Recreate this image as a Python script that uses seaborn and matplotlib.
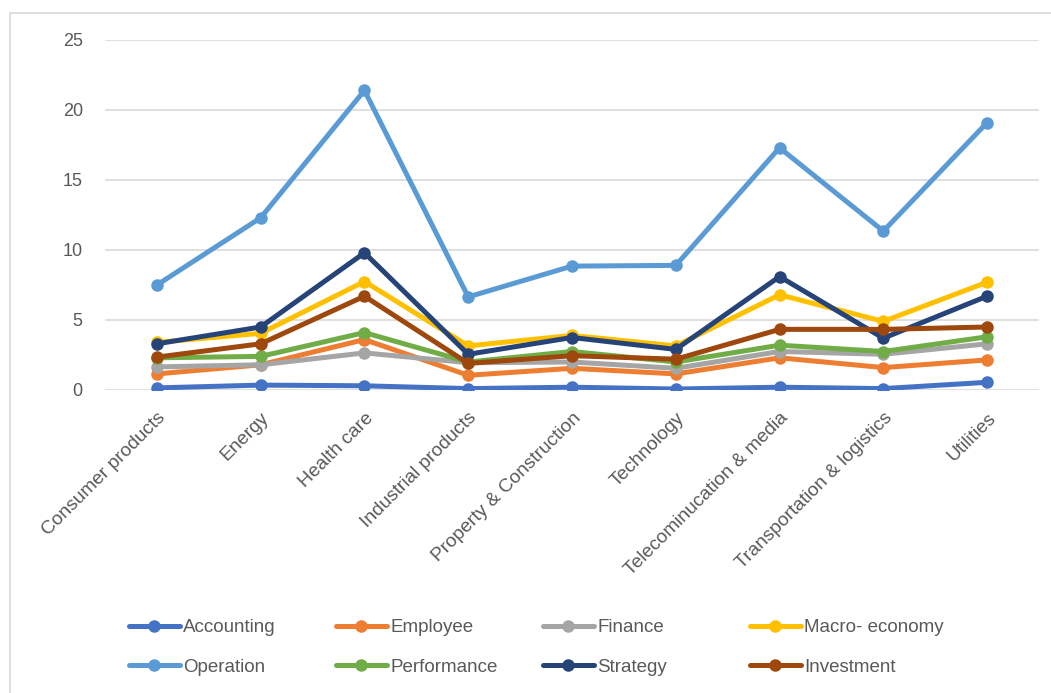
import numpy as np
import pandas as pd
import matplotlib
matplotlib.use('Agg')
import matplotlib.pyplot as plt
import seaborn as sns
from matplotlib.lines import Line2D

sns.set_style("white")
plt.rcParams['font.family'] = ['Liberation Sans', 'DejaVu Sans']

categories = ['Consumer products', 'Energy', 'Health care', 'Industrial products',
              'Property & Construction', 'Technology', 'Telecominucation & media',
              'Transportation & logistics', 'Utilities']

accounting = [0.15, 0.35, 0.3, 0.1, 0.2, 0.07, 0.2, 0.1, 0.55]
employee = [1.15, 1.8, 3.6, 1.05, 1.55, 1.15, 2.3, 1.6, 2.15]
finance = [1.65, 1.8, 2.65, 1.95, 2.0, 1.55, 2.75, 2.55, 3.3]
macro_economy = [3.4, 4.05, 7.75, 3.15, 3.9, 3.15, 6.8, 4.9, 7.7]
operation = [7.5, 12.3, 21.4, 6.65, 8.85, 8.9, 17.3, 11.35, 19.1]
performance = [2.3, 2.4, 4.1, 2.0, 2.75, 2.0, 3.2, 2.75, 3.8]
strategy = [3.3, 4.5, 9.8, 2.55, 3.75, 2.9, 8.1, 3.7, 6.7]
investment = [2.35, 3.3, 6.7, 1.9, 2.45, 2.2, 4.33, 4.33, 4.5]

series = {
    'Accounting': accounting,
    'Employee': employee,
    'Finance': finance,
    'Macro- economy': macro_economy,
    'Operation': operation,
    'Performance': performance,
    'Strategy': strategy,
    'Investment': investment,
}
colors = ['#4472C4', '#ED7D31', '#A5A5A5', '#FFC000',
          '#5B9BD5', '#70AD47', '#264478', '#9E480E']

df = pd.DataFrame(series, index=categories)
long_df = df.reset_index().melt(id_vars='index', var_name='series', value_name='value')
long_df = long_df.rename(columns={'index': 'category'})

fig = plt.figure(figsize=(10.51, 6.93), dpi=100)
ax = fig.add_axes([105 / 1051, 1 - 390 / 693, (1039 - 105) / 1051, 350 / 693])

sns.lineplot(data=long_df, x='category', y='value', hue='series',
             palette=colors, sort=False, marker='o', markersize=9,
             markeredgewidth=0, linewidth=3.6, legend=False, ax=ax)

ax.set_xlim(-0.5, len(categories) - 0.5)
ax.set_ylim(0, 25)
ax.set_yticks([0, 5, 10, 15, 20, 25])
ax.grid(axis='y', color='#D9D9D9', linewidth=1.2)
ax.set_axisbelow(True)
for s in ax.spines.values():
    s.set_visible(False)
ax.set_xlabel('')
ax.set_ylabel('')
ax.tick_params(axis='both', length=0, labelcolor='#595959', labelsize=13)
ax.tick_params(axis='y', pad=16)
ax.tick_params(axis='x', pad=14, labelsize=13.8)
ax.set_xticks(range(len(categories)))
ax.set_xticklabels(categories, rotation=45, ha='right', rotation_mode='anchor')

# legend: 4 columns, filled row by row, evenly spaced like the original
names = list(series.keys())
col_x = [129, 336, 543, 750]
for i, x0 in enumerate(col_x):
    idx = [i, i + 4]
    handles = [Line2D([0], [0], color=colors[j], linewidth=3.6, marker='o',
                      markersize=9, markeredgewidth=0) for j in idx]
    leg = fig.legend(handles, [names[j] for j in idx], loc='upper left',
                     bbox_to_anchor=(x0 / 1051, 1 - 619 / 693), frameon=False,
                     fontsize=13.5, labelcolor='#595959', handlelength=2.7,
                     handletextpad=0.2, labelspacing=1.2, borderpad=0,
                     borderaxespad=0)

# chart area border (top and left edges visible)
fig.add_artist(Line2D([10 / 1051, 10 / 1051], [0, 1 - 13 / 693], color='#D9D9D9',
                      linewidth=1.2, transform=fig.transFigure))
fig.add_artist(Line2D([10 / 1051, 1], [1 - 13 / 693, 1 - 13 / 693], color='#D9D9D9',
                      linewidth=1.2, transform=fig.transFigure))

fig.savefig('out.png', dpi=100)
